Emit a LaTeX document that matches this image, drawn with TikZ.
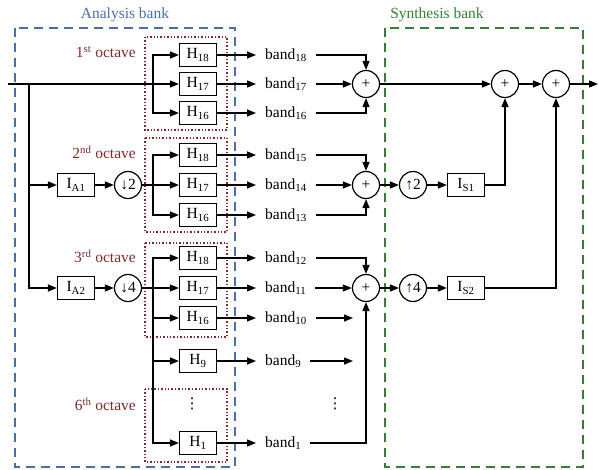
\documentclass[tikz,border=0pt]{standalone}
\usepackage{fontspec}
\setmainfont{Liberation Serif}
\newfontfamily\symfont{DejaVu Sans}
\usepackage{tikz}
\usetikzlibrary{arrows.meta,calc,positioning}
\definecolor{anablue}{RGB}{72,112,165}
\definecolor{syngreen}{RGB}{52,128,52}
\definecolor{octred}{RGB}{128,42,42}

\tikzset{
  filt/.style={draw,line width=1.2pt,minimum width=37pt,minimum height=23pt,inner sep=0pt},
  opcirc/.style={draw,circle,line width=1.2pt,minimum size=27pt,inner sep=0pt},
  flow/.style={line width=1.4pt,-{Triangle[length=9pt,width=7pt]}},
  bandlbl/.style={anchor=west,inner xsep=9pt,inner ysep=0pt},
  octlbl/.style={text=octred,anchor=east,inner sep=0pt},
  octbox/.style={draw=octred,dotted,line width=1.4pt},
  bankbox/.style={dash pattern=on 9pt off 6pt,line width=1.4pt},
}

\begin{document}
\begin{tikzpicture}[x=1pt,y=-1pt,font=\fontsize{15.5}{18}\selectfont]
  \useasboundingbox (0,0) rectangle (599,470);
  % --- Bank frames ---
  \draw[anablue,bankbox] (15,28) rectangle (235,467);
  \node[anablue] (analab) at (125,15) {Analysis bank};
  \draw[syngreen,bankbox] (385,28) rectangle (583,467);
  \node[syngreen] (synlab) at (437,15) {Synthesis bank};

  % --- Octave groups ---
  \draw[octbox] (145,37)  rectangle (227,130);
  \draw[octbox] (145,138) rectangle (227,232);
  \draw[octbox] (145,243) rectangle (227,337);
  \draw[octbox] (145,389) rectangle (227,462);
  \node[octlbl] (oct1) at (136,52)  {1\textsuperscript{st} octave};
  \node[octlbl] (oct2) at (136,152) {2\textsuperscript{nd} octave};
  \node[octlbl] (oct3) at (136,256) {3\textsuperscript{rd} octave};
  \node[octlbl] (oct6) at (136,404) {6\textsuperscript{th} octave};

  % --- Filters H and band outputs ---
  \foreach \oct/\ya/\yb/\yc/\ba/\bb/\bc in {1/55/84/113/18/17/16, 2/155/185/215/15/14/13, 3/258/288/318/12/11/10}{%
    \node[filt] (h\oct-18) at (198,\ya) {H\textsubscript{18}};
    \node[filt] (h\oct-17) at (198,\yb) {H\textsubscript{17}};
    \node[filt] (h\oct-16) at (198,\yc) {H\textsubscript{16}};
    \node[bandlbl] (b\ba) at (256,\ya) {band\textsubscript{\ba}};
    \node[bandlbl] (b\bb) at (256,\yb) {band\textsubscript{\bb}};
    \node[bandlbl] (b\bc) at (256,\yc) {band\textsubscript{\bc}};
    \draw[flow] (h\oct-18.east) -- (b\ba.west);
    \draw[flow] (h\oct-17.east) -- (b\bb.west);
    \draw[flow] (h\oct-16.east) -- (b\bc.west);
  }
  \node[filt] (h9) at (198,361) {H\textsubscript{9}};
  \node[filt] (h1) at (198,443) {H\textsubscript{1}};
  \node[bandlbl] (b9) at (256,361) {band\textsubscript{9}};
  \node[bandlbl] (b1) at (256,443) {band\textsubscript{1}};
  \draw[flow] (h9.east) -- (b9.west);
  \draw[flow] (h1.east) -- (b1.west);
  \node[font=\symfont\fontsize{15}{18}\selectfont] (hdots) at (192,404) {⋮};
  \node[font=\symfont\fontsize{15}{18}\selectfont] (bdots) at (335,404) {⋮};

  % --- Analysis side: input, IA and decimators ---
  \coordinate (in) at (8,84);
  \coordinate (tap) at (29,84);
  \node[filt] (ia1) at (76,185) {I\textsubscript{A1}};
  \node[filt] (ia2) at (76,288) {I\textsubscript{A2}};
  \node[opcirc] (dn2) at (128,185) {↓2};
  \node[opcirc] (dn4) at (128,288) {↓4};
  \coordinate (br1) at (153,84);
  \coordinate (br2) at (153,185);
  \coordinate (br3) at (153,288);

  \draw[flow] (in) -- (h1-17.west);
  \draw[flow] (tap) |- (ia1.west);
  \draw[flow] (tap) |- (ia2.west);
  \draw[flow] (ia1) -- (dn2);
  \draw[flow] (ia2) -- (dn4);
  \draw[flow] (dn2) -- (h2-17.west);
  \draw[flow] (dn4) -- (h3-17.west);
  \foreach \oct in {1,2,3}{%
    \draw[flow] (br\oct) |- (h\oct-18.west);
    \draw[flow] (br\oct) |- (h\oct-16.west);
  }
  \draw[flow] (br3) |- (h9.west);
  \draw[flow] (br3) |- (h1.west);

  % --- Summation of bands ---
  \node[opcirc] (s1) at (366,84)  {+};
  \node[opcirc] (s2) at (366,185) {+};
  \node[opcirc] (s3) at (366,288) {+};
  \draw[flow] (b18.east) -| (s1.north);
  \draw[flow] (b17.east) -- (s1.west);
  \draw[flow] (b16.east) -| (s1.south);
  \draw[flow] (b15.east) -| (s2.north);
  \draw[flow] (b14.east) -- (s2.west);
  \draw[flow] (b13.east) -| (s2.south);
  \draw[flow] (b12.east) -| (s3.north);
  \draw[flow] (b11.east) -- (s3.west);
  \draw[flow] (b1.east) -| (s3.south);
  \coordinate (e10) at (353,318);
  \coordinate (e9) at (353,361);
  \draw[flow] (b10.east) -- (e10);
  \draw[flow] (b9.east) -- (e9);

  % --- Synthesis side ---
  \node[opcirc] (up2) at (413,185) {↑2};
  \node[opcirc] (up4) at (413,288) {↑4};
  \node[filt] (is1) at (466,185) {I\textsubscript{S1}};
  \node[filt] (is2) at (466,288) {I\textsubscript{S2}};
  \node[opcirc] (s4) at (505,84) {+};
  \node[opcirc] (s5) at (556,84) {+};
  \coordinate (out) at (598,84);

  \draw[flow] (s1) -- (s4);
  \draw[flow] (s4) -- (s5);
  \draw[flow] (s5) -- (out);
  \draw[flow] (s2) -- (up2);
  \draw[flow] (up2) -- (is1);
  \draw[flow] (s3) -- (up4);
  \draw[flow] (up4) -- (is2);
  \draw[flow] (is1.east) -| (s4.south);
  \draw[flow] (is2.east) -| (s5.south);
\end{tikzpicture}
\end{document}
